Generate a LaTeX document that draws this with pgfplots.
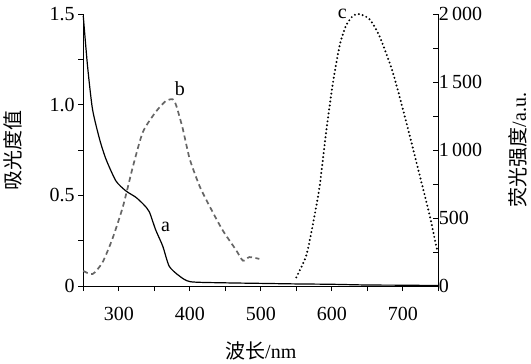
\documentclass[border=0pt]{standalone}
\usepackage{fontspec}
\setmainfont{Liberation Serif}
\newfontfamily\cjk{Noto Sans CJK SC}
\usepackage{pgfplots}
\pgfplotsset{compat=1.18}
\begin{document}
\begin{tikzpicture}
\pgfplotsset{
  common/.style={
    scale only axis, width=355pt, height=272pt,
    xmin=250, xmax=750,
    axis line style={line width=1.1pt, -},
    tick style={black, line width=0.8pt},
    major tick length=5pt,
    ticklabel style={font=\fontsize{20}{22}\selectfont},
    label style={font=\fontsize{20}{22}\selectfont},
    /pgf/number format/assume math mode=true,
    clip=false,
  }
}
\begin{axis}[common,
  ymin=0, ymax=1.5,
  axis x line*=bottom, axis y line*=left,
  xtick={250,300,...,750}, xticklabels={,300,,400,,500,,600,,700,},
  ytick={0,0.25,...,1.5}, yticklabels={0,,0.5,,1.0,,1.5},
  tick align=outside,
  xticklabel style={yshift=-13pt},
  xlabel={{\cjk 波长}/nm}, ylabel={\cjk 吸光度值},
  xlabel style={yshift=-14pt},
  ylabel style={yshift=21pt},
]
\addplot[black, line width=1.2pt, smooth, tension=0.4] coordinates {
(250,1.49) (256,1.215) (263,0.976) (273,0.81) (282,0.70) (296,0.58) (310,0.525)
(324,0.49) (335,0.45) (343,0.41) (352,0.31) (362,0.22) (371,0.11) (385,0.057)
(401,0.024) (450,0.018) (500,0.015) (550,0.012) (600,0.01) (650,0.006) (700,0.005) (750,0.003)
};
\addplot[color=black!60, line width=1.7pt, dash pattern=on 5pt off 3.5pt, smooth, tension=0.4] coordinates {
(250,0.084) (263,0.066) (277,0.13) (291,0.26) (306,0.44) (320,0.66) (334,0.85)
(352,0.96) (366,1.02) (376,1.03) (381,0.995) (390,0.87) (400,0.70) (414,0.55)
(428,0.44) (446,0.31) (465,0.20) (475,0.14) (484,0.16) (498,0.15)
};
\node[font=\fontsize{20}{22}\selectfont] at (axis cs:366,0.325) {a};
\node[font=\fontsize{20}{22}\selectfont] at (axis cs:386,1.087) {b};
\node[font=\fontsize{20}{22}\selectfont] at (axis cs:615,1.5) {c};
\end{axis}
\begin{axis}[common,
  ymin=0, ymax=2000,
  axis x line=none, axis y line*=right,
  ytick={0,250,...,2000}, yticklabels={0,,500,,1\,000,,1\,500,,2\,000},
  tick align=inside,
  yticklabel style={xshift=-3pt},
  ylabel={{\cjk 荧光强度}/a.u.},
  ylabel style={yshift=-20pt},
]
\addplot[black, line width=2.2pt, line cap=round, dash pattern=on 0pt off 4pt, smooth, tension=0.4] coordinates {
(550,64) (564,223) (573,443) (583,737) (592,1130) (601,1473) (611,1767) (620,1914)
(630,1988) (639,2000) (653,1963) (667,1840) (686,1571) (705,1204) (724,811)
(738,517) (747,296) (750,250)
};
\end{axis}
\path ([yshift=4pt]current bounding box.north);
\end{tikzpicture}
\end{document}
